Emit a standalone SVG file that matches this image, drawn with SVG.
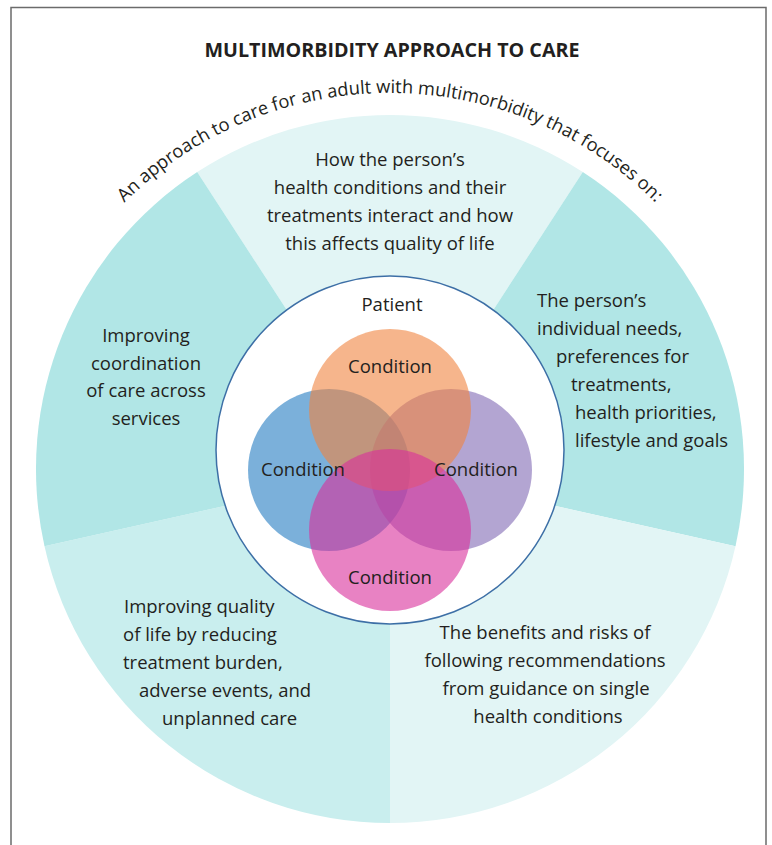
<svg xmlns="http://www.w3.org/2000/svg" width="772" height="845" viewBox="0 0 772 845">
  <defs>
    <style>
      .t { font-family: "Open Sans", "Noto Sans", "Liberation Sans", sans-serif; font-size: 18.5px; fill: #231f20; }
      .c { text-anchor: middle; }
      .title { font-family: "Open Sans", "Liberation Sans", sans-serif; font-size: 19.7px; font-weight: 700; fill: #231f20; text-anchor: middle; }
      .arc { font-family: "Open Sans", "Liberation Sans", sans-serif; font-size: 18.3px; fill: #231f20; }
      .venn { fill-opacity: 0.6; }
    </style>
    <path id="arcPath" d="M 64.4 657 A 376 376 0 1 1 715.6 657"/>
  </defs>

  <!-- frame -->
  <rect x="0" y="0" width="772" height="845" fill="#ffffff"/>
  <path d="M 11 845 L 11 7.5 L 766 7.5 L 766 845" fill="none" stroke="#6b6b6b" stroke-width="1.5"/>

  <text id="title" class="title" x="392" y="57">MULTIMORBIDITY APPROACH TO CARE</text>

  <!-- ring segments -->
  <g id="seg-top">
    <path d="M390,469 L197.2,172.1 A354,354 0 0 1 582.8,172.1 Z" fill="#e2f5f5"/>
    <text class="t c" x="390" y="166">How the person’s</text>
    <text class="t c" x="390" y="194">health conditions and their</text>
    <text class="t c" x="390" y="222">treatments interact and how</text>
    <text class="t c" x="390" y="250">this affects quality of life</text>
  </g>
  <g id="seg-right">
    <path d="M390,469 L582.8,172.1 A354,354 0 0 1 735.5,546.2 Z" fill="#b1e6e6"/>
    <text class="t" x="537" y="307">The person’s</text>
    <text class="t" x="537" y="335">individual needs,</text>
    <text class="t" x="556" y="363">preferences for</text>
    <text class="t" x="571" y="391">treatments,</text>
    <text class="t" x="575" y="419">health priorities,</text>
    <text class="t" x="575" y="447">lifestyle and goals</text>
  </g>
  <g id="seg-bottom-right">
    <path d="M390,469 L735.5,546.2 A354,354 0 0 1 390,823 Z" fill="#e2f5f5"/>
    <text class="t c" x="545" y="639">The benefits and risks of</text>
    <text class="t c" x="545" y="667">following recommendations</text>
    <text class="t c" x="546" y="695">from guidance on single</text>
    <text class="t c" x="548" y="723">health conditions</text>
  </g>
  <g id="seg-bottom-left">
    <path d="M390,469 L390,823 A354,354 0 0 1 44.5,546.2 Z" fill="#c9eeee"/>
    <text class="t" x="124" y="613">Improving quality</text>
    <text class="t" x="123" y="641">of life by reducing</text>
    <text class="t" x="123" y="669">treatment burden,</text>
    <text class="t" x="139" y="697">adverse events, and</text>
    <text class="t" x="162" y="725">unplanned care</text>
  </g>
  <g id="seg-left">
    <path d="M390,469 L44.5,546.2 A354,354 0 0 1 197.2,172.1 Z" fill="#b1e6e6"/>
    <text class="t c" x="146" y="342">Improving</text>
    <text class="t c" x="146" y="370">coordination</text>
    <text class="t c" x="146" y="397">of care across</text>
    <text class="t c" x="146" y="425">services</text>
  </g>

  <!-- arc heading -->
  <text id="arc-heading" class="arc"><textPath href="#arcPath" startOffset="50%" text-anchor="middle">An approach to care for an adult with multimorbidity that focuses on:</textPath></text>

  <!-- patient -->
  <g id="patient">
    <circle cx="390" cy="450" r="174" fill="#ffffff" stroke="#3d6fa6" stroke-width="1.5"/>
    <text class="t c" x="392" y="311">Patient</text>
  </g>

  <!-- venn -->
  <g id="cond-left"><circle class="venn" cx="329" cy="470" r="81" fill="#237bc1"/></g>
  <g id="cond-right"><circle class="venn" cx="451" cy="470" r="81" fill="#8069b4"/></g>
  <g id="cond-top"><circle class="venn" cx="390" cy="410" r="81" fill="#f0843f"/></g>
  <g id="cond-bottom"><circle class="venn" cx="390" cy="530" r="81" fill="#d92f9b"/></g>
  <g id="labels">
    <text class="t c" x="390" y="373">Condition</text>
    <text class="t c" x="303" y="476">Condition</text>
    <text class="t c" x="476" y="476">Condition</text>
    <text class="t c" x="390" y="584">Condition</text>
  </g>
</svg>
